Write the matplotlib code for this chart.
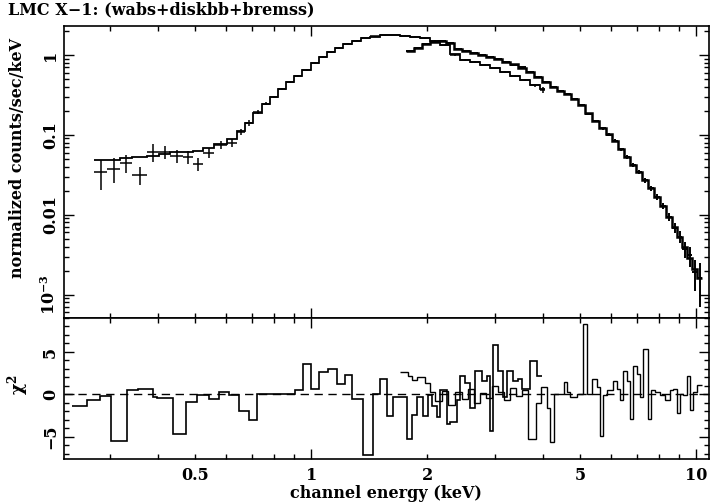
import numpy as np
import matplotlib
matplotlib.use("Agg")
import matplotlib.pyplot as plt
from matplotlib.ticker import FixedLocator, FuncFormatter, NullFormatter, MultipleLocator

plt.rcParams['font.family'] = ['DejaVu Serif']
plt.rcParams['font.weight'] = 'bold'
plt.rcParams['mathtext.fontset'] = 'custom'
plt.rcParams['mathtext.rm'] = 'DejaVu Serif:bold'
plt.rcParams['mathtext.it'] = 'DejaVu Serif:bold'
plt.rcParams['mathtext.default'] = 'rm'

# ---------------- data ----------------
# Low-energy data set A: bin edges (keV), data, errors, model
a_edges = [0.273, 0.295, 0.319, 0.343, 0.375, 0.403, 0.430, 0.465, 0.494, 0.524, 0.560,
           0.605, 0.643, 0.674, 0.707, 0.746, 0.783, 0.821, 0.861, 0.903, 0.948, 1.0,
           1.049, 1.10, 1.154, 1.211, 1.278, 1.349, 1.423, 1.511, 1.604, 1.703, 1.807,
           1.919, 2.038, 2.163, 2.296, 2.438, 2.588, 2.75, 2.92, 3.10, 3.29, 3.49, 3.71,
           3.93, 4.05]
a_data = [0.0345, 0.0376, 0.0447, 0.0316, 0.0613, 0.0613, 0.0546, 0.0531, 0.0434, 0.0596,
          0.075, 0.0794, 0.109, 0.141, 0.194, 0.244, 0.298, 0.376, 0.46, 0.547, 0.649,
          0.794, 0.944, 1.09, 1.22, 1.37, 1.50, 1.63, 1.70, 1.76, 1.78, 1.73, 1.68, 1.61,
          1.50, 1.33, 1.0, 0.866, 0.818, 0.75, 0.678, 0.613, 0.547, 0.48, 0.415, 0.365]
a_err = [0.014, 0.013, 0.011, 0.008, 0.016, 0.011, 0.010, 0.010, 0.008, 0.009,
         0.009, 0.009, 0.010, 0.012, 0.010, 0.010, 0.012, 0.014, 0.015, 0.016, 0.018,
         0.02, 0.02, 0.02, 0.02, 0.02, 0.02, 0.02, 0.02, 0.02, 0.02, 0.02, 0.02, 0.02,
         0.02, 0.02, 0.02, 0.015, 0.015, 0.015, 0.015, 0.015, 0.015, 0.015, 0.015, 0.03]
a_model = [0.0487, 0.0487, 0.0516, 0.0531, 0.0546, 0.0579, 0.0613, 0.0613, 0.0631, 0.0688,
           0.0769, 0.0887, 0.112, 0.141, 0.19, 0.24, 0.30, 0.37, 0.455, 0.55, 0.655,
           0.79, 0.94, 1.08, 1.22, 1.36, 1.49, 1.61, 1.69, 1.75, 1.77, 1.74, 1.69, 1.61,
           1.50, 1.32, 1.02, 0.87, 0.81, 0.75, 0.68, 0.61, 0.55, 0.48, 0.42, 0.37]

# High-energy data set B
b_edges = [1.765, 1.852, 1.942, 2.038, 2.137, 2.242, 2.352, 2.467, 2.588, 2.715, 2.848,
           2.988, 3.134, 3.288, 3.450, 3.618, 3.795, 3.981, 4.177, 4.355, 4.541, 4.735,
           4.937, 5.148, 5.368, 5.597, 5.837, 6.050, 6.272, 6.501, 6.740, 6.987, 7.241,
           7.506, 7.781, 8.064, 8.360, 8.666, 8.925, 9.197, 9.476, 9.763, 10.06, 10.37]
b_data = [1.12, 1.22, 1.35, 1.45, 1.50, 1.41, 1.19, 1.11, 1.05, 0.997, 0.944, 0.881,
          0.825, 0.757, 0.696, 0.613, 0.532, 0.46, 0.398, 0.355, 0.326, 0.282, 0.237,
          0.183, 0.15, 0.121, 0.1, 0.0841, 0.066, 0.0531, 0.0422, 0.0341, 0.0271,
          0.0215, 0.0168, 0.0129, 0.0094, 0.0069, 0.0053, 0.0037, 0.0031, 0.0019, 0.0016]
b_err = [0.02, 0.02, 0.02, 0.02, 0.02, 0.02, 0.02, 0.02, 0.02, 0.02, 0.018, 0.018,
         0.016, 0.015, 0.014, 0.013, 0.012, 0.011, 0.010, 0.009, 0.008, 0.007, 0.007,
         0.006, 0.005, 0.0045, 0.004, 0.0035, 0.003, 0.0027, 0.0024, 0.002, 0.0018,
         0.0016, 0.0014, 0.0012, 0.0011, 0.001, 0.0009, 0.0008, 0.0009, 0.0008, 0.0009]
b_model = [1.12, 1.23, 1.35, 1.45, 1.49, 1.40, 1.20, 1.11, 1.05, 0.995, 0.94, 0.88,
           0.825, 0.76, 0.695, 0.615, 0.535, 0.46, 0.40, 0.355, 0.322, 0.28, 0.235,
           0.185, 0.15, 0.122, 0.101, 0.084, 0.067, 0.053, 0.042, 0.034, 0.027,
           0.0213, 0.0167, 0.0128, 0.0095, 0.0071, 0.0053, 0.0039, 0.0029, 0.0021, 0.0016]

# chi^2 residuals
ra_edges = [0.2394, 0.2619, 0.2831, 0.3023, 0.3327, 0.3553, 0.3888, 0.398, 0.438, 0.4735,
            0.5057, 0.5434, 0.5768, 0.6124, 0.650, 0.690, 0.724, 0.7686, 0.8309, 0.9087,
            0.9533, 1.0, 1.049, 1.107, 1.168, 1.226, 1.278, 1.365, 1.449, 1.511, 1.576,
            1.633, 1.775, 1.829, 1.885, 1.954, 2.014, 2.062, 2.125, 2.163, 2.256, 2.296,
            2.394, 2.438, 2.512, 2.588, 2.667, 2.782, 2.865, 2.917, 2.970, 3.060, 3.153,
            3.229, 3.347, 3.450, 3.533, 3.706, 3.864, 3.981]
ra_vals = [-1.4, -0.65, -0.15, -5.5, 0.5, 0.6, -0.25, -0.45, -4.7, -0.85, -0.1, -0.55,
           0.3, -0.1, -2.0, -3.05, 0.1, 0.0, 0.1, 0.5, 3.55, 0.65, 2.7, 3.05, 1.25, 2.3,
           -0.5, -7.1, 0.0, 1.8, -2.5, -0.3, -5.2, -2.4, -0.3, -2.5, -0.1, -1.4, -2.7,
           0.5, -3.5, -3.3, -0.6, 2.2, 1.3, -1.6, 2.8, 1.6, 2.2, -4.3, 5.8, 2.8, -0.3,
           2.8, 1.6, 1.8, 0.7, 3.9, 2.2]
rb_edges = [1.703, 1.786, 1.829, 1.885, 1.978, 2.038, 2.099, 2.189, 2.269, 2.366, 2.467,
            2.557, 2.651, 2.748, 2.848, 2.953, 3.060, 3.172, 3.288, 3.408, 3.533, 3.662,
            3.841, 3.958, 4.102, 4.177, 4.278, 4.355, 4.541, 4.623, 4.707, 4.908, 5.073,
            5.211, 5.368, 5.533, 5.632, 5.734, 5.873, 6.087, 6.235, 6.347, 6.46, 6.619,
            6.740, 6.862, 7.029, 7.154, 7.284, 7.506, 7.642, 7.828, 8.064, 8.308, 8.561,
            8.716, 8.925, 9.089, 9.252, 9.476, 9.647, 9.822, 10.06, 10.37]
rb_vals = [2.7, 2.2, 1.65, 2.0, 1.3, 0.3, -0.8, 0.4, -1.2, 0.3, -0.5, 0.6, -1.0, 0.2,
           -0.4, 1.0, 0.3, -0.6, 0.8, -0.2, 0.5, -5.2, -1.0, 0.9, -1.6, -5.6, 0.0, 0.1,
           1.5, 0.3, -0.3, 0.1, 8.3, 0.0, 1.8, 0.9, -4.85, -0.1, 0.5, 1.6, 0.7, -0.6,
           2.8, 1.6, -2.9, 3.4, 2.4, -0.3, 5.3, -2.9, 0.5, 0.3, -0.1, -0.65, 0.5, 0.7,
           -2.2, 0.1, -0.1, 2.2, -1.8, 0.3, 1.1]

x_tick_labels = {0.5: "0.5", 1: "1", 2: "2", 5: "5", 10: "10"}
y_tick_labels = {1: "1", 0.1: "0.1", 0.01: "0.01", 0.001: "$10^{-3}$"}

# ---------------- figure ----------------
fig = plt.figure(figsize=(7.1, 5.03), dpi=100)
L, R = 64 / 710, 709 / 710
ax1 = fig.add_axes([L, 1 - 318 / 503, R - L, 292 / 503])
ax2 = fig.add_axes([L, 1 - 459 / 503, R - L, 141 / 503])

def cross(ax, edges, data, err, model, lw=1.0, mlw=1.0):
    e = np.array(edges)
    c = np.sqrt(e[:-1] * e[1:])
    ax.errorbar(c, data, xerr=[c - e[:-1], e[1:] - c], yerr=err, fmt='none',
                ecolor='k', elinewidth=lw, capsize=0)
    ax.stairs(model, e, baseline=None, color='k', lw=mlw)

cross(ax1, a_edges, a_data, a_err, a_model, lw=1.1, mlw=1.3)
cross(ax1, b_edges, b_data, b_err, b_model, lw=1.4, mlw=1.8)

ax2.stairs(ra_vals, ra_edges, baseline=None, color='k', lw=1.2)
ax2.stairs(rb_vals, rb_edges, baseline=None, color='k', lw=1.0)
ax2.axhline(0, color='k', lw=1.0, ls=(0, (6, 4)))

for ax in (ax1, ax2):
    ax.set_xscale('log')
    ax.set_xlim(0.228, 10.8)
    ax.xaxis.set_major_locator(FixedLocator([1, 10]))
    ax.xaxis.set_minor_locator(FixedLocator([0.3, 0.4, 0.5, 0.6, 0.7, 0.8, 0.9,
                                             2, 3, 4, 5, 6, 7, 8, 9]))
    ax.tick_params(which='both', direction='in', top=True, right=True, width=1.0,
                   labelsize=11.5)
    ax.tick_params(which='major', length=7)
    ax.tick_params(which='minor', length=3.5)
    for s in ax.spines.values():
        s.set_linewidth(1.2)

ax1.set_yscale('log')
ax1.set_ylim(5.1e-4, 2.3)
ax1.xaxis.set_major_formatter(NullFormatter())
ax1.xaxis.set_minor_formatter(NullFormatter())
ax1.yaxis.set_major_formatter(FuncFormatter(lambda v, p: next((t for k, t in y_tick_labels.items() if abs(v / k - 1) < 1e-6), "")))
ax1.yaxis.set_minor_formatter(NullFormatter())

fmt = FuncFormatter(lambda v, p: next((t for k, t in x_tick_labels.items() if abs(v / k - 1) < 1e-6), ""))
ax2.xaxis.set_major_formatter(fmt)
ax2.xaxis.set_minor_formatter(fmt)
ax2.set_ylim(-7.6, 9.0)
ax2.yaxis.set_major_locator(FixedLocator([-5, 0, 5]))
ax2.yaxis.set_minor_locator(MultipleLocator(1))
ax2.yaxis.set_major_formatter(FuncFormatter(lambda v, p: "%d" % v if v >= 0 else "\u2212%d" % -v))
ax2.tick_params(axis='x', which='both', pad=6)

for ax in (ax1, ax2):
    for t in ax.get_yticklabels():
        t.set_rotation(90)
        t.set_va('center')

fig.text(8 / 710, 1 - 10 / 503, "LMC X\u22121: (wabs+diskbb+bremss)", fontsize=11.5,
         ha='left', va='center', fontweight='bold')
fig.text(18 / 710, 1 - 158 / 503, "normalized counts/sec/keV", rotation=90,
         fontsize=11.5, ha='center', va='center')
fig.text(18 / 710, 1 - 385 / 503, "$\\chi^2$", rotation=90, fontsize=12.5,
         ha='center', va='center')
fig.text(386 / 710, 1 - 493 / 503, "channel energy (keV)", fontsize=11.5,
         ha='center', va='center')

fig.savefig("out.png", dpi=100)
